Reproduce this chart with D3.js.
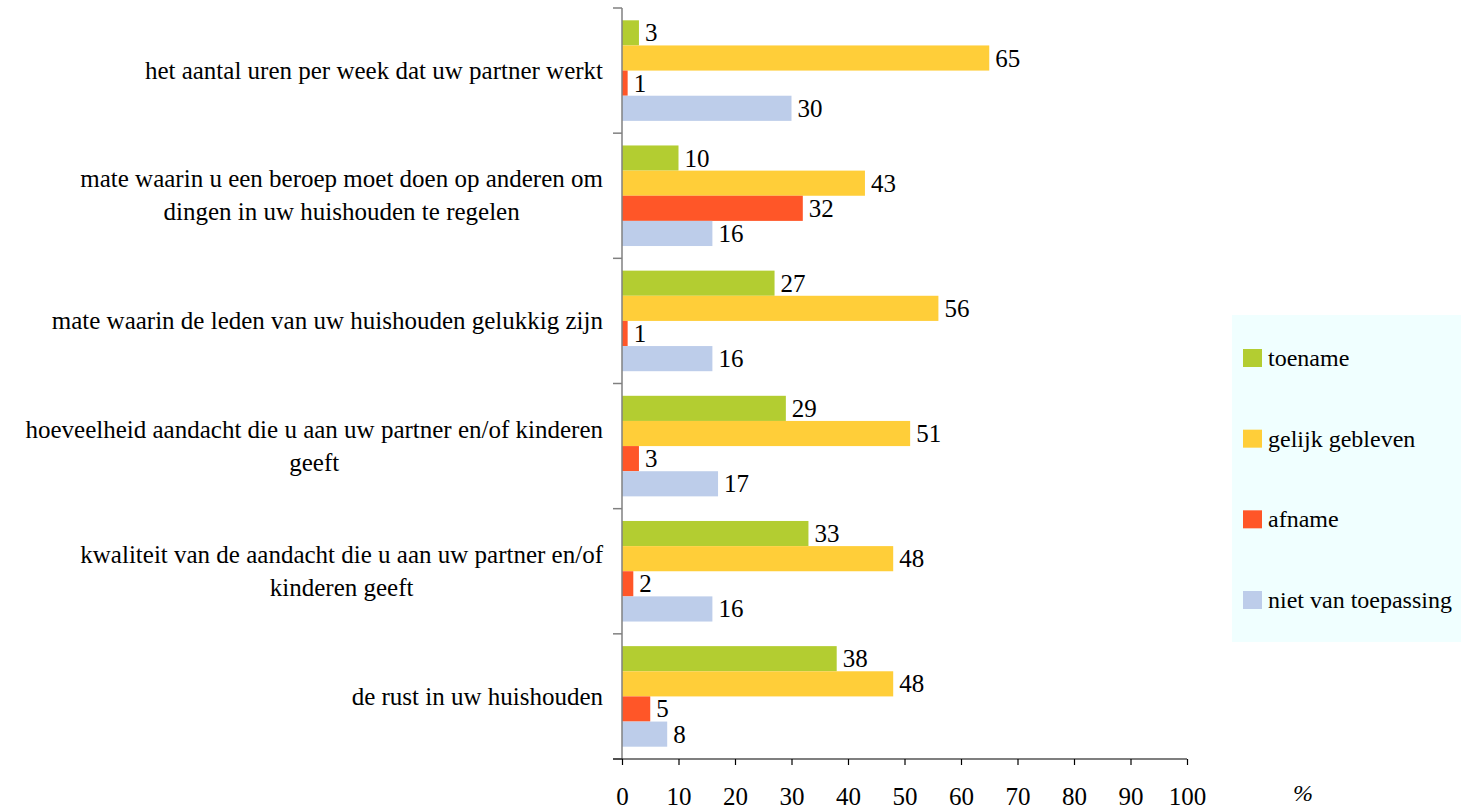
<!DOCTYPE html>
<html>
<head>
<meta charset="utf-8">
<script src="https://cdn.jsdelivr.net/npm/d3@7"></script>
</head>
<body style="margin:0">
<svg id="chart" width="1461" height="810"></svg>
<script>
const categories = [
  ["het aantal uren per week dat uw partner werkt"],
  ["mate waarin u een beroep moet doen op anderen om", "dingen in uw huishouden te regelen"],
  ["mate waarin de leden van uw huishouden gelukkig zijn"],
  ["hoeveelheid aandacht die u aan uw partner en/of kinderen", "geeft"],
  ["kwaliteit van de aandacht die u aan uw partner en/of", "kinderen geeft"],
  ["de rust in uw huishouden"]
];
const seriesNames = ["toename", "gelijk gebleven", "afname", "niet van toepassing"];
const toename = [3, 10, 27, 29, 33, 38];
const gelijk = [65, 43, 56, 51, 48, 48];
const afname = [1, 32, 1, 3, 2, 5];
const nvt = [30, 16, 16, 17, 16, 8];
const xTicks = [0, 10, 20, 30, 40, 50, 60, 70, 80, 90, 100];
const colors = ["#b3cd31", "#ffce39", "#ff5628", "#bdcdea"];

const seriesValues = [toename, gelijk, afname, nvt];
const FONT = "Liberation Serif";
const FS = 25;

const svg = d3.select("#chart");
const pLeft = 622, pRight = 1187, pTop = 8, pBottom = 759;

const x = d3.scaleLinear().domain([0, 100]).range([pLeft, pRight]);
const y = d3.scaleBand().domain(d3.range(categories.length)).range([pTop, pBottom]).padding(0);
const bw = y.bandwidth();
const inner = d3.scaleBand().domain(d3.range(seriesNames.length)).range([12.3, bw - 12.3]).padding(0);

function txt(sel) {
  return sel.style("font-family", FONT).attr("font-size", FS).attr("fill", "#000");
}

// bars
const groups = svg.append("g").selectAll("g")
  .data(d3.range(categories.length))
  .join("g")
  .attr("transform", i => `translate(0,${y(i)})`);

groups.selectAll("rect")
  .data(i => seriesValues.map((s, k) => ({ k, v: s[i] })))
  .join("rect")
  .attr("x", x(0))
  .attr("y", d => inner(d.k))
  .attr("width", d => x(d.v) - x(0))
  .attr("height", inner.bandwidth())
  .attr("fill", d => colors[d.k]);

groups.selectAll("text.val")
  .data(i => seriesValues.map((s, k) => ({ k, v: s[i] })))
  .join("text")
  .attr("class", "val")
  .attr("x", d => x(d.v) + 6)
  .attr("y", d => inner(d.k) + inner.bandwidth() / 2)
  .attr("dy", "0.34em")
  .call(txt)
  .text(d => d.v);

// y axis
const ya = svg.append("g").attr("transform", `translate(${pLeft},0)`);
ya.append("line").attr("x1", 0).attr("x2", 0).attr("y1", pTop).attr("y2", pBottom).attr("stroke", "#808080").attr("stroke-width", 1.5);
ya.selectAll("line.t")
  .data(d3.range(categories.length + 1))
  .join("line")
  .attr("class", "t")
  .attr("x1", -9).attr("x2", 0)
  .attr("y1", i => pTop + i * bw).attr("y2", i => pTop + i * bw)
  .attr("stroke", "#808080").attr("stroke-width", 1.5);

// category labels
const labG = svg.append("g");
const labelRight = 603;
categories.forEach((lines, i) => {
  const cy = y(i) + bw / 2;
  if (lines.length === 1) {
    labG.append("text").attr("x", labelRight).attr("y", cy).attr("dy", "0.34em")
      .attr("text-anchor", "end").call(txt).text(lines[0]);
  } else {
    const t1 = labG.append("text").attr("x", labelRight).attr("y", cy - 17).attr("dy", "0.34em")
      .attr("text-anchor", "end").call(txt).text(lines[0]);
    const w1 = t1.node().getComputedTextLength();
    labG.append("text").attr("x", labelRight - w1 / 2).attr("y", cy + 16).attr("dy", "0.34em")
      .attr("text-anchor", "middle").call(txt).text(lines[1]);
  }
});

// x axis
const xAxis = d3.axisBottom(x).tickValues(xTicks).tickSize(6).tickSizeOuter(0).tickPadding(22);
const xa = svg.append("g").attr("transform", `translate(0,${pBottom})`).call(xAxis);
xa.attr("font-family", null).attr("font-size", null);
xa.select(".domain").remove();
xa.append("line").attr("x1", pLeft - 9).attr("x2", pRight).attr("y1", 0).attr("y2", 0)
  .attr("stroke", "#000").attr("stroke-width", 1.2);
xa.selectAll(".tick line").attr("stroke", "#000").attr("stroke-width", 1.2);
xa.selectAll(".tick text").call(txt);

svg.append("text").attr("x", 1303).attr("y", 793).attr("dy", "0.34em")
  .attr("text-anchor", "middle").call(txt).attr("font-size", 24)
  .attr("font-style", "italic").text("%");

// legend
const lg = svg.append("g");
lg.append("rect").attr("x", 1232).attr("y", 315).attr("width", 240).attr("height", 327).attr("fill", "#f0ffff");
const ly = d3.scalePoint().domain(seriesNames).range([358, 600]);
seriesNames.forEach((n, k) => {
  lg.append("rect").attr("x", 1243).attr("y", ly(n) - 9).attr("width", 19).attr("height", 18).attr("fill", colors[k]);
  lg.append("text").attr("x", 1268).attr("y", ly(n)).attr("dy", "0.34em").call(txt).attr("font-size", 24).text(n);
});
</script>
</body>
</html>
